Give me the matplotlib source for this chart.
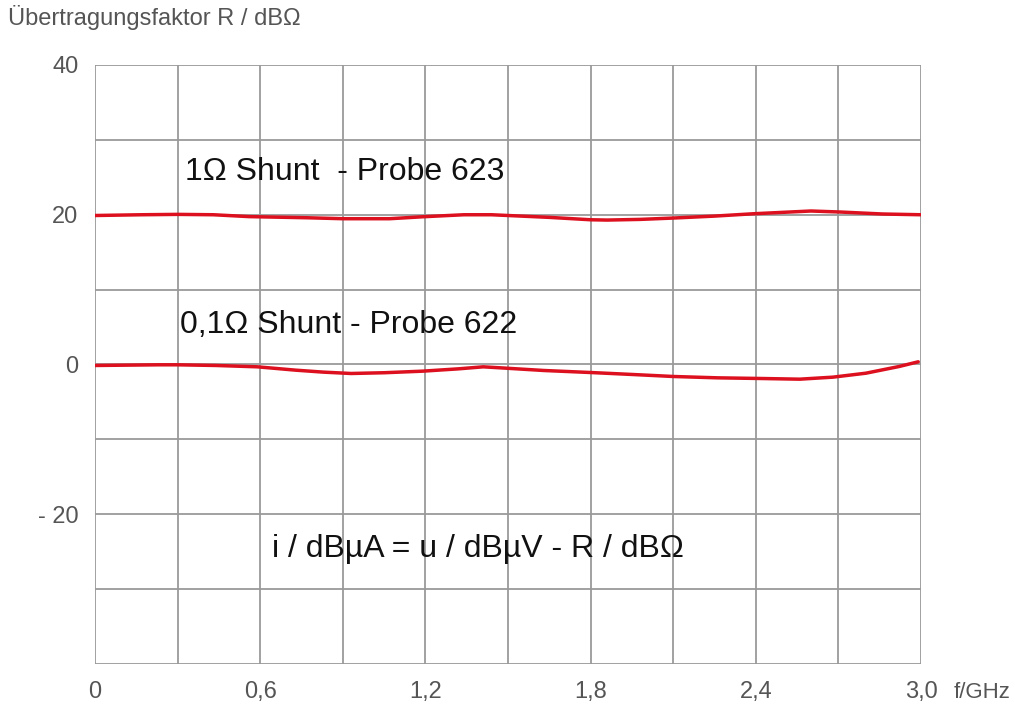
import matplotlib
matplotlib.use("Agg")
import matplotlib.pyplot as plt

# Data
freq_top = [0.0, 0.17, 0.30, 0.43, 0.56, 0.77, 0.90, 1.07, 1.19, 1.34, 1.44, 1.50,
            1.65, 1.80, 1.86, 1.98, 2.10, 2.25, 2.39, 2.60, 2.71, 2.86, 3.0]
r_top = [19.9, 20.0, 20.05, 20.0, 19.75, 19.6, 19.47, 19.47, 19.73, 20.0, 20.0, 19.9,
         19.65, 19.33, 19.29, 19.38, 19.56, 19.82, 20.13, 20.5, 20.36, 20.1, 20.0]

freq_bot = [0.0, 0.23, 0.30, 0.44, 0.59, 0.73, 0.83, 0.93, 1.05, 1.19, 1.32, 1.41, 1.47,
            1.63, 1.80, 1.95, 2.10, 2.26, 2.42, 2.56, 2.68, 2.80, 2.92, 2.99]
r_bot = [-0.13, -0.04, -0.04, -0.13, -0.31, -0.76, -1.02, -1.2, -1.1, -0.89, -0.58, -0.31, -0.44,
         -0.8, -1.07, -1.33, -1.6, -1.78, -1.87, -1.96, -1.69, -1.16, -0.27, 0.36]

x_ticks = [0.0, 0.6, 1.2, 1.8, 2.4, 3.0]
x_labels = ["0", "0,6", "1,2", "1,8", "2,4", "3,0"]
y_ticks = [40, 20, 0, -20]
y_labels = ["40", "20", "0", "- 20"]

FONT = "Liberation Sans"
plt.rcParams["font.family"] = [FONT, "DejaVu Sans"]

fig = plt.figure(figsize=(10.15, 7.06), dpi=100)
ax = fig.add_axes([95/1015, 42/706, (921-95)/1015, (664-65)/706])
ax.set_xlim(0, 3.0)
ax.set_ylim(-40, 40)

for gx in [i*0.3 for i in range(11)]:
    ax.axvline(gx, color="#9a9a9a", lw=1.3, zorder=1)
for gy in range(-40, 41, 10):
    ax.axhline(gy, color="#9a9a9a", lw=1.3, zorder=1)
for s in ax.spines.values():
    s.set_visible(False)

ax.plot(freq_top, r_top, color="#dc101e", lw=2.5, zorder=3, solid_capstyle="round", solid_joinstyle="round")
ax.plot(freq_bot, r_bot, color="#dc101e", lw=2.5, zorder=3, solid_capstyle="round", solid_joinstyle="round")

ax.set_xticks(x_ticks)
ax.set_xticklabels(x_labels)
ax.set_yticks(y_ticks)
ax.set_yticklabels(y_labels)
ax.tick_params(length=0, labelsize=17, colors="#555555")
ax.tick_params(axis="x", pad=12)
ax.tick_params(axis="y", pad=12)

ax.text(3.12, -42.4, "f/GHz", fontsize=16, color="#555555", ha="left", va="top")
fig.text(8/1015, 1 - 18/706, "Übertragungsfaktor R / dBΩ", fontsize=17, color="#555555",
         ha="left", va="center")

ax.text(0.327, 25.7, "1Ω Shunt  - Probe 623", fontsize=23, color="#111111", ha="left", va="center")
ax.text(0.309, 5.3, "0,1Ω Shunt - Probe 622", fontsize=23, color="#111111", ha="left", va="center")
ax.text(0.643, -24.7, "i / dBµA = u / dBµV - R / dBΩ", fontsize=23, color="#111111", ha="left", va="center")

fig.savefig("out.png", dpi=100)
